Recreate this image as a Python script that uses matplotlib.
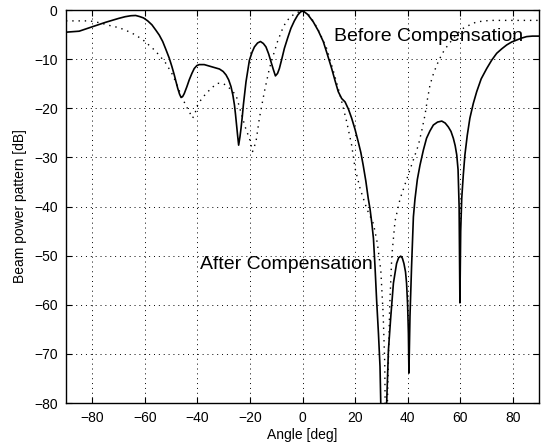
import matplotlib
matplotlib.use('Agg')
import matplotlib.pyplot as plt

plt.rcParams['font.family'] = ['Liberation Sans', 'DejaVu Sans']

# beam pattern, solid curve (angle in deg, power in dB)
solid_angle = [-90, -85, -80, -75, -70, -67.5, -65.3, -63.5, -62.1, -60.5, -58.9, -57.3,
               -55.8, -54.5, -53.2, -52, -50.7, -49.7, -48.8, -47.5, -46.8, -46.2, -45.6,
               -45.0, -44.0, -43.1, -42.1, -41.2, -40.2, -39.3, -37.4, -35.5, -33.5, -31.6,
               -30.2, -29.1, -28.1, -27.2, -26.5, -25.9, -25.5, -25.1, -24.7, -24.3, -23.8,
               -23.4, -22.9, -22.5, -22.0, -21.5, -20.2, -19.2, -18.3, -17.1, -16.0, -14.9,
               -13.9, -12.9, -12.0, -11.1, -10.3, -9.5, -8.8, -7.8, -6.9, -5.6, -4.4, -3.1,
               -1.8, -0.7, 0.3, 2, 4.1, 6, 7.9, 9.5, 11.1, 12.4, 13.6, 14.9, 16.2, 17.5,
               18.7, 20.0, 21.2, 22.2, 23.1, 24.1, 25.0, 25.7, 26.4, 27.0, 27.6, 28.2, 28.9,
               29.5, 29.8, 30.9, 32.0, 32.7, 33.6, 34.6, 35.8, 36.6, 37.4, 38.0, 38.6, 39.2,
               39.6, 40.0, 40.3, 40.5, 40.7, 40.9, 41.5, 42.2, 42.8, 43.7, 44.7, 46, 47.2,
               48.5, 49.8, 51.4, 53.0, 54.3, 55.5, 56.5, 57.4, 58.1, 58.7, 59.2, 59.6, 59.9,
               60.2, 60.6, 61.2, 61.8, 62.7, 63.7, 65, 66.3, 68, 70.1, 72, 73.9, 75.8, 77.7,
               79.6, 81.5, 83.4, 85.3, 87.5, 90]
solid_db = [-4.5, -4.3, -3.4, -2.5, -1.7, -1.35, -1.15, -1.1, -1.3, -1.6, -2.2, -3.0,
            -4.1, -5.1, -6.4, -8.0, -9.8, -11.5, -13.2, -15.9, -17.1, -17.8, -17.6,
            -17.0, -15.6, -14.2, -12.9, -11.9, -11.3, -11.1, -11.1, -11.4, -11.7, -12.0,
            -12.5, -13.2, -14.2, -15.6, -17.3, -19.3, -21.2, -23.4, -25.5, -27.5, -25.8,
            -24.1, -21.6, -19.3, -16.9, -14.6, -10.2, -8.6, -7.5, -6.7, -6.4, -6.8,
            -7.5, -8.9, -10.5, -12.1, -13.4, -12.9, -11.9, -9.8, -7.8, -5.6, -3.7, -2.2,
            -1.0, -0.35, -0.2, -0.9, -2.4, -4.2, -6.4, -9.1, -11.9, -14.4, -16.6, -18.0,
            -18.7, -20.2, -22.0, -24.3, -26.8, -29.0, -31.6, -34.8, -38.3, -40.5, -43.5,
            -46.5, -52.3, -59.0, -65.8, -72.6, -80.5, -95.0, -80.5, -69.2, -62.4, -55.6,
            -51.6, -50.4, -50.1, -50.5, -51.6, -53.3, -55.6, -60.0, -65.8, -73.9, -68.0,
            -62.4, -52.3, -42.1, -38.5, -34.5, -31.6, -28.5, -26.1, -24.6, -23.4, -22.8,
            -22.6, -23.0, -23.8, -24.7, -26.1, -27.6, -29.5, -32.5, -40.0, -59.6, -45.0,
            -38.3, -33.5, -29.5, -25.5, -22.0, -19.0, -16.6, -14.0, -11.9, -10.2, -8.8,
            -7.9, -7.1, -6.5, -6.1, -5.7, -5.4, -5.3, -5.3]

# dotted curve
dot_angle = [-90, -86, -81, -77, -73, -69.7, -66.5, -63.4, -60.2, -57, -54.5, -51.9,
             -49.4, -47.8, -46.2, -44.6, -43.1, -41.8, -40.9, -39.9, -38.3, -36.7, -34.5,
             -32.3, -30, -27.8, -25.3, -22.8, -21.5, -20.2, -19.0, -17.7, -16.4, -14.5,
             -12.6, -11, -9.5, -7.9, -6.3, -4.4, -2.5, 0, 2, 4.3, 6.5, 9.2, 11.8, 14.3,
             16.8, 18.7, 20.0, 22, 24.5, 27, 28.5, 29.8, 30.7, 31.3, 31.7, 32.4, 33.2,
             34.0, 35.2, 37.1, 39, 40.9, 42.5, 44.1, 45.4, 46.6, 47.5, 48.5, 49.8, 51.1,
             52.3, 53.6, 55.5, 57.4, 59.3, 61.2, 63.7, 66.3, 71.3, 80, 90]
dot_db = [-2.2, -2.2, -2.2, -2.6, -3.2, -3.6, -4.3, -5.1, -6.3, -7.8, -9.2, -10.9,
          -13.2, -15.2, -17.3, -19.2, -20.7, -22.0, -21.0, -19.3, -18.0, -17.0, -15.8,
          -14.9, -15.0, -15.9, -17.3, -22.0, -24.3, -26.1, -28.8, -26.8, -22.0, -16.6,
          -11.9, -9.0, -6.4, -4.2, -2.4, -1.3, -0.6, -0.1, -0.7, -2.4, -4.6, -7.8, -12.5,
          -17.3, -22.7, -27.5, -32.2, -36.5, -40.5, -43.5, -47.5, -53.0, -62.0, -72.0,
          -95.0, -78.0, -60.0, -50.0, -43.0, -38.5, -35.5, -32.5, -30.0, -27.5, -24.5,
          -21.4, -18.3, -15.3, -13.0, -11.2, -9.8, -8.5, -7.0, -5.8, -4.6, -3.7, -3.0,
          -2.4, -2.1, -2.1, -2.1]

x_ticks = [-80, -60, -40, -20, 0, 20, 40, 60, 80]
y_ticks = [-80, -70, -60, -50, -40, -30, -20, -10, 0]

fig = plt.figure(figsize=(5.5, 4.44), dpi=100)
ax = fig.add_axes([0.12, 0.0923, 0.86, 0.885])

ax.plot(solid_angle, solid_db, color='black', lw=1.2)
ax.plot(dot_angle, dot_db, color='black', lw=1.0, linestyle=(0, (1, 3.5)))

ax.set_xlim(-90, 90)
ax.set_ylim(-80, 0)
ax.set_xticks(x_ticks)
ax.set_yticks(y_ticks)
ax.grid(True, color='black', linestyle=(0, (1, 4)), lw=0.7)
ax.tick_params(direction='in', top=True, right=True, labelsize=10, length=4)
ax.tick_params(axis='y', pad=6)
ax.tick_params(axis='x', pad=6)
for s in ax.spines.values():
    s.set_linewidth(1.0)

ax.text(12, -5.3, 'Before Compensation', fontsize=14, va='center', ha='left')
ax.text(-39, -51.9, 'After Compensation', fontsize=14, va='center', ha='left')

ax.set_xlabel('Angle [deg]', fontsize=10, labelpad=2)
ax.set_ylabel('Beam power pattern [dB]', fontsize=10, labelpad=5)

fig.savefig('out.png', dpi=100)
